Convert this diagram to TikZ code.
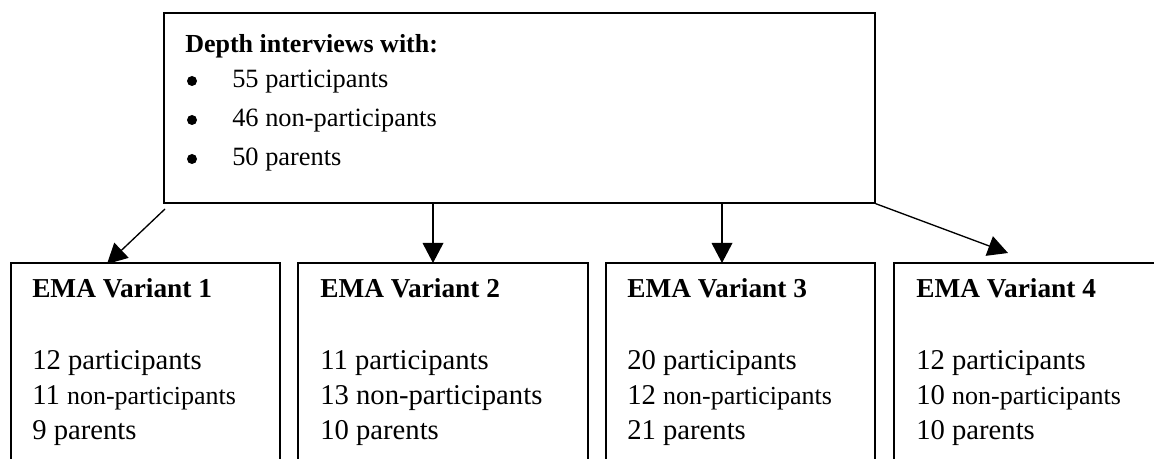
\documentclass[tikz,border=0pt]{standalone}
\usepackage{fontspec}
\setmainfont{Liberation Serif}
\usetikzlibrary{arrows.meta,fit}
\newcommand{\smallnp}{{\fontsize{19.5}{23}\selectfont non-participants}}
\begin{document}
\begin{tikzpicture}[x=0.75pt,y=-0.75pt,
  box/.style={draw, line width=1pt, inner sep=0pt},
  lbl/.style={anchor=base west, inner sep=0pt, font=\fontsize{21.5}{25}\selectfont},
  ttl/.style={anchor=base west, inner sep=0pt, font=\fontsize{20.5}{24}\selectfont\bfseries},
  tlbl/.style={anchor=base west, inner sep=0pt, font=\fontsize{19.8}{23}\selectfont},
  tttl/.style={anchor=base west, inner sep=0pt, font=\fontsize{19.5}{23}\selectfont\bfseries},
  dot/.style={circle, fill, inner sep=0pt, minimum size=7.5pt},
  arr/.style={line width=1pt, -{Triangle[length=15pt,width=15.5pt]}}
]
\useasboundingbox (0,0) rectangle (1154,459);
\clip (0,0) rectangle (1154,459);

% top box
\node[box, fit={(164,13) (875,203)}] (top) {};
\node[tttl] (th) at (185,53) {Depth interviews with:};
\node[dot] (d1) at (192,81) {};
\node[tlbl] (t1) at (232,88) {55 participants};
\node[dot] (d2) at (192,120) {};
\node[tlbl] (t2) at (232,127) {46 non-participants};
\node[dot] (d3) at (192,159) {};
\node[tlbl] (t3) at (232,166) {50 parents};

% bottom boxes
\node[box, fit={(11,263) (280,490)}] (v1) {};
\node[box, fit={(298,263) (588,490)}] (v2) {};
\node[box, fit={(606,263) (875,490)}] (v3) {};
\node[box, fit={(894,263) (1175,490)}] (v4) {};

\node[ttl] (h1) at (32,298) {EMA Variant 1};
\node[lbl] (a1) at (32,370) {12 participants};
\node[lbl] (b1) at (32,405) {11 \smallnp};
\node[lbl] (c1) at (32,440) {9 parents};

\node[ttl] (h2) at (320,298) {EMA Variant 2};
\node[lbl] (a2) at (320,370) {11 participants};
\node[lbl] (b2) at (320,405) {13 non-participants};
\node[lbl] (c2) at (320,440) {10 parents};

\node[ttl] (h3) at (627,298) {EMA Variant 3};
\node[lbl] (a3) at (627,370) {20 participants};
\node[lbl] (b3) at (627,405) {12 \smallnp};
\node[lbl] (c3) at (627,440) {21 parents};

\node[ttl] (h4) at (916,298) {EMA Variant 4};
\node[lbl] (a4) at (916,370) {12 participants};
\node[lbl] (b4) at (916,405) {10 \smallnp};
\node[lbl] (c4) at (916,440) {10 parents};

% arrows
\coordinate (s1) at (165,209);
\coordinate (e1) at (107,264);
\coordinate (e2) at (433,263);
\coordinate (e3) at (722,263);
\coordinate (e4) at (1008,253);
\draw[arr] (s1) -- (e1);
\draw[arr] (top.south -| e2) -- (e2);
\draw[arr] (top.south -| e3) -- (e3);
\draw[arr] (top.south east) -- (e4);
\end{tikzpicture}
\end{document}
